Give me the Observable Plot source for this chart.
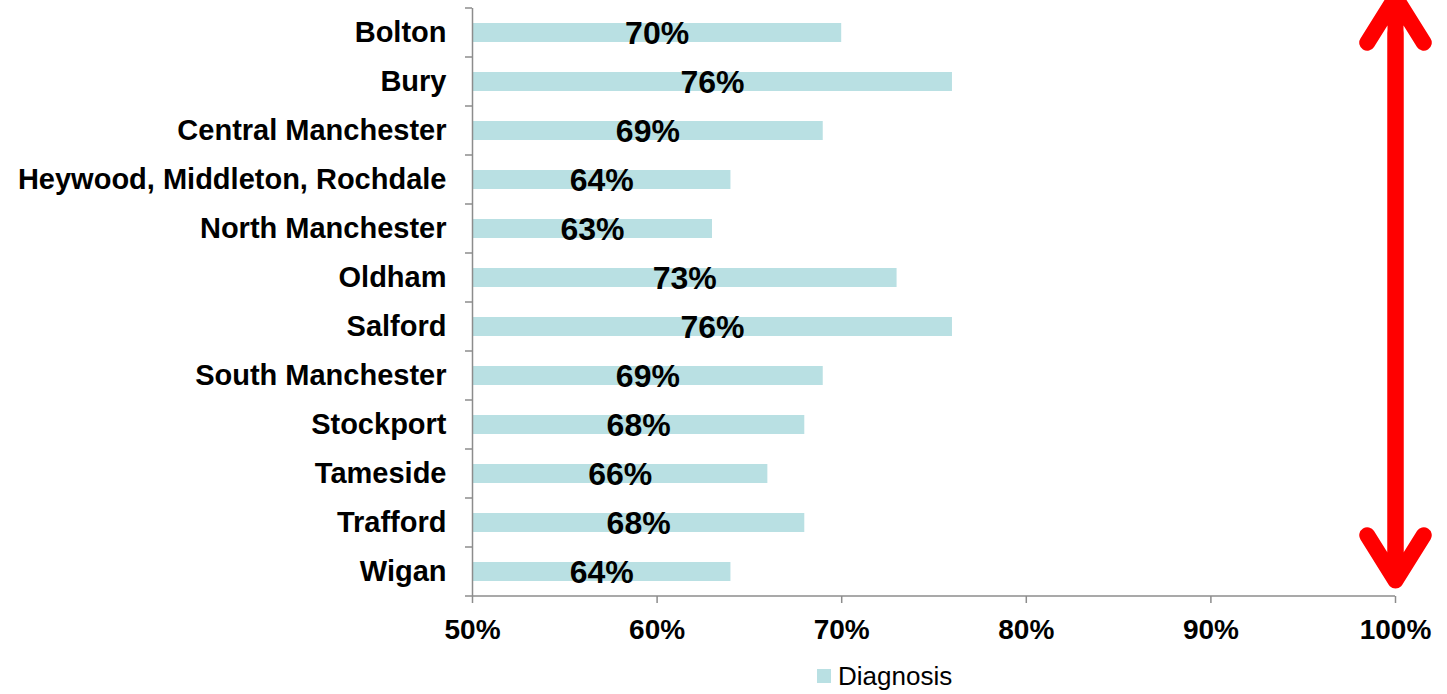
<!DOCTYPE html>
<html><head><meta charset="utf-8">
<script src="https://cdn.jsdelivr.net/npm/d3@7"></script>
<script src="https://cdn.jsdelivr.net/npm/@observablehq/plot@0.6"></script>
<style>
body{margin:0;background:#fff;font-family:"Liberation Sans",Arial,sans-serif;}
#chart{position:relative;width:1447px;height:694px;overflow:hidden;}
#chart svg{display:block;}
.legend{position:absolute;left:817px;top:661px;display:flex;align-items:center;font-size:26px;color:#000;line-height:30px;}
.legend .sw{width:14px;height:14px;background:#b9e0e3;margin-right:7px;}
</style></head><body><div id="chart"></div>
<script>
const categories = ["Bolton","Bury","Central Manchester","Heywood, Middleton, Rochdale","North Manchester","Oldham","Salford","South Manchester","Stockport","Tameside","Trafford","Wigan"];
const values = [70,76,69,64,63,73,76,69,68,66,68,64];
const xTicks = [50,60,70,80,90,100];
const seriesName = "Diagnosis";
const arrowValue = 100;

const data = categories.map((c,i)=>({area:c, value:values[i]}));
const upArrow = [{x:arrowValue, from:categories[categories.length-1], to:categories[0]}];
const downArrow = [{x:arrowValue, from:categories[0], to:categories[categories.length-1]}];

const axisGrey = "#8c8c8c";

// band-boundary ticks on the y axis and the x axis base line
const frameMark = (index, scales, values, dim) => {
  const g = d3.create("svg:g");
  const top = dim.marginTop, bottom = dim.height - dim.marginBottom;
  const n = categories.length, step = (bottom - top) / n;
  const x0 = scales.x(50), x1 = scales.x(100);
  for (let i = 0; i <= n; i++) {
    g.append("line").attr("x1", x0 - 7).attr("x2", x0).attr("y1", top + i*step).attr("y2", top + i*step)
      .attr("stroke", axisGrey).attr("stroke-width", 1.5);
  }
  g.append("line").attr("x1", x0).attr("x2", x1).attr("y1", bottom).attr("y2", bottom)
    .attr("stroke", axisGrey).attr("stroke-width", 1.5);
  return g.node();
};

const plot = Plot.plot({
  width:1447, height:656,
  marginLeft:472, marginRight:52, marginTop:8, marginBottom:60,
  style:{fontFamily:"'Liberation Sans', Arial, sans-serif", background:"transparent", overflow:"visible", color:"#000"},
  x:{domain:[50,100], label:null},
  y:{domain:categories, paddingInner:0.61, paddingOuter:0.305, label:null},
  marks:[
    Plot.barX(data,{y:"area", x1:50, x2:"value", fill:"#b9e0e3"}),
    Plot.ruleX([50],{stroke:axisGrey, strokeWidth:1.5}),
    frameMark,
    Plot.axisX({ticks:xTicks, tickFormat:d=>d+"%", tickSize:7, tickPadding:16, fontSize:28, fontWeight:"bold", fill:"#000", stroke:axisGrey, strokeWidth:1.5, label:null}),
    Plot.axisY({tickSize:0, tickPadding:26, fontSize:29, fontWeight:"bold", fill:"#000", label:null}),
    Plot.text(data,{y:"area", x:d=>(50+d.value)/2, text:d=>d.value+"%", fontSize:32, fontWeight:"bold", fill:"#000", dy:1}),
    Plot.arrow(upArrow,{x1:"x", x2:"x", y1:"from", y2:"to", stroke:"#ff0000", strokeWidth:16, headLength:5, headAngle:64, insetEnd:-35.5, strokeLinecap:"round", strokeLinejoin:"miter"}),
    Plot.arrow(downArrow,{x1:"x", x2:"x", y1:"from", y2:"to", stroke:"#ff0000", strokeWidth:16, headLength:5, headAngle:64, insetEnd:-8.5, strokeLinecap:"round", strokeLinejoin:"miter"})
  ]
});
const chart = document.getElementById("chart");
chart.appendChild(plot);
const legend = document.createElement("div");
legend.className = "legend";
legend.innerHTML = `<span class="sw"></span><span></span>`;
legend.lastChild.textContent = seriesName;
chart.appendChild(legend);
</script></body></html>
